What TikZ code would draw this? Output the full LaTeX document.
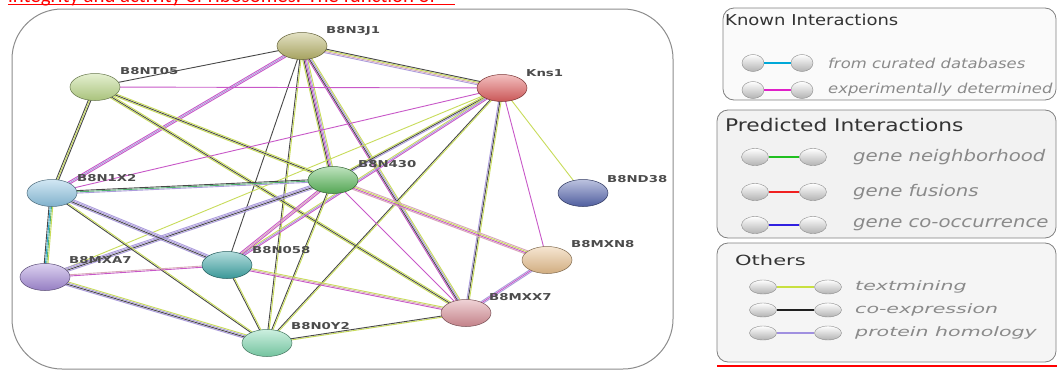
\documentclass[tikz,border=0pt]{standalone}
\usepackage{fontspec}
\usepackage{graphicx}
\setmainfont{DejaVu Sans}
\newfontfamily\redfont{Carlito}
\usetikzlibrary{calc,shapes.geometric}
\pgfdeclarelayer{back}
\pgfdeclarelayer{edges}
\pgfsetlayers{back,edges,main}
% edge colours
\definecolor{etm}{HTML}{C8DC5A}
\definecolor{eco}{HTML}{484848}
\definecolor{ehm}{HTML}{AC9CDC}
\definecolor{eex}{HTML}{C858C8}
\definecolor{edb}{HTML}{30A8D0}
\definecolor{enb}{HTML}{50B070}
\definecolor{epk}{HTML}{D8A8B8}
% node colours
\definecolor{cJ}{HTML}{B8B46A}
\definecolor{cT}{HTML}{BCD88A}
\definecolor{cK}{HTML}{E06060}
\definecolor{cN}{HTML}{5CB85C}
\definecolor{cX}{HTML}{8EC4E2}
\definecolor{cD}{HTML}{5868B0}
\definecolor{cA}{HTML}{A68CD8}
\definecolor{cF}{HTML}{40A8A8}
\definecolor{cM}{HTML}{E8C08E}
\definecolor{cS}{HTML}{D89098}
\definecolor{cY}{HTML}{80D8B0}
% legend colours
\definecolor{ldb}{HTML}{00A8D8}
\definecolor{lex}{HTML}{E020C8}
\definecolor{lnb}{HTML}{20C020}
\definecolor{lfu}{HTML}{F02020}
\definecolor{lco}{HTML}{3020E0}
\definecolor{ltm}{HTML}{C8E040}
\definecolor{lce}{HTML}{202020}
\definecolor{lhm}{HTML}{A090E0}
\definecolor{legtxt}{HTML}{8A8A8A}
\definecolor{redtxt}{HTML}{FF0000}

\newcommand\edg[3]{%
  \foreach \cc [count=\i] in {#3} {\xdef\nn{\i}}%
  \foreach \cc [count=\i] in {#3} {%
    \pgfmathsetmacro\oo{(\i-(\nn+1)/2)*1.25}%
    \draw[color=\cc, line width=0.9pt] ($(#1)!\oo pt!90:(#2)$) -- ($(#2)!\oo pt!-90:(#1)$);
  }}
\newcommand\plabtxt[1]{\scalebox{1.4}[1]{#1}}

\tikzset{
  prot/.style={ellipse, minimum width=50pt, minimum height=27pt, inner sep=0pt,
    draw=#1!55!black, line width=0.5pt, top color=#1!40!white, bottom color=#1!90!black},
  plab/.style={anchor=west, inner sep=0pt, text=black!70,
    font=\bfseries\fontsize{9.5}{10}\selectfont},
  lball/.style={ellipse, minimum width=#1, minimum height=17pt, inner sep=0pt,
    draw=black!45, line width=0.4pt, top color=white, bottom color=black!30},
  lball/.default=22pt,
  legline/.style={line width=1.6pt},
  legbox/.style={draw=black!50, line width=0.8pt, rounded corners=11pt},
  legtitle/.style={anchor=west, inner sep=0pt, text=black!80},
  legitem/.style={anchor=west, inner sep=0pt, text=legtxt}
}

\begin{document}
\begin{tikzpicture}[x=1pt,y=-1pt]
\useasboundingbox (0,0) rectangle (1057,372);
\clip (0,0) rectangle (1057,372);

% red text at top (cut off)
\node[anchor=base west, inner sep=0pt, text=redtxt, font=\redfont\fontsize{20.8}{21}\selectfont]
  (redt) at (8,2.5) {integrity and activity of ribosomes. The function of};
\draw[redtxt, line width=1.5pt] (8,4.5) -- (455,4.5);

% main graph box
\begin{pgfonlayer}{back}
\draw[black!45, line width=1pt, fill=white, rounded corners=50pt] (12,9) rectangle (673,369);
\end{pgfonlayer}

% proteins
\node[prot=cJ] (J1) at (302,46) {};
\node[prot=cT] (T05) at (95,87) {};
\node[prot=cK] (Kns) at (502,88) {};
\node[prot=cN] (N430) at (333,180) {};
\node[prot=cX] (X2) at (52,193) {};
\node[prot=cD] (D38) at (583,193) {};
\node[prot=cA] (XA7) at (45,277) {};
\node[prot=cF] (N058) at (227,265) {};
\node[prot=cM] (XN8) at (547,260) {};
\node[prot=cS] (XX7) at (466,313) {};
\node[prot=cY] (Y2) at (267,343) {};

\node[plab] (lJ1) at (326,31) {\plabtxt{B8N3J1}};
\node[plab] (lT05) at (120,71) {\plabtxt{B8NT05}};
\node[plab] (lKns) at (526,73) {\plabtxt{Kns1}};
\node[plab] (lN430) at (358,164) {\plabtxt{B8N430}};
\node[plab] (lX2) at (77,178) {\plabtxt{B8N1X2}};
\node[plab] (lD38) at (607,179) {\plabtxt{B8ND38}};
\node[plab] (lXA7) at (69,260) {\plabtxt{B8MXA7}};
\node[plab] (lN058) at (252,250) {\plabtxt{B8N058}};
\node[plab] (lXN8) at (571,244) {\plabtxt{B8MXN8}};
\node[plab] (lXX7) at (489,297) {\plabtxt{B8MXX7}};
\node[plab] (lY2) at (291,326) {\plabtxt{B8N0Y2}};

% interactions
\begin{pgfonlayer}{edges}
\edg{J1}{T05}{eco}
\edg{J1}{Kns}{ehm,epk,etm,eco}
\edg{J1}{X2}{eex,ehm,eex}
\edg{J1}{N430}{etm,eco,eex,ehm,etm}
\edg{J1}{N058}{eco}
\edg{J1}{Y2}{eco,etm}
\edg{J1}{XX7}{eex,eco,ehm,etm}
\edg{T05}{Kns}{eex}
\edg{T05}{X2}{eco,etm,eco}
\edg{T05}{N430}{etm,eco,etm}
\edg{T05}{XX7}{etm,eco,etm}
\edg{Kns}{X2}{eex}
\edg{Kns}{N430}{etm,eco,ehm}
\edg{Kns}{N058}{etm,ehm,eex}
\edg{Kns}{XA7}{etm}
\edg{Kns}{Y2}{eco,etm}
\edg{Kns}{XX7}{ehm,eco,etm}
\edg{Kns}{XN8}{eex}
\edg{Kns}{D38}{etm}
\edg{N430}{X2}{eco,enb,ehm}
\edg{N430}{XA7}{ehm,ehm,eco,ehm}
\edg{N430}{N058}{eex,epk,eex}
\edg{N430}{Y2}{eco,etm}
\edg{N430}{XN8}{epk,eex,etm,epk}
\edg{N430}{XX7}{eex}
\edg{X2}{XA7}{eco,edb,enb,etm}
\edg{X2}{N058}{ehm,eco,ehm,ehm}
\edg{X2}{Y2}{eco,etm}
\edg{XA7}{N058}{eex,epk}
\edg{XA7}{Y2}{ehm,eco,ehm,etm}
\edg{N058}{Y2}{eco,etm}
\edg{N058}{XX7}{eex,epk,etm}
\edg{Y2}{XX7}{etm,eco}
\edg{XN8}{XX7}{ehm,eex,ehm}
\end{pgfonlayer}

% legend boxes
\draw[legbox, fill=black!2] (723,8) rectangle (1056,100);
\draw[legbox, fill=black!5] (717,110) rectangle (1056,238);
\draw[legbox, fill=black!4] (717,243) rectangle (1056,362);
\draw[redtxt, line width=1.5pt] (717,366) -- (1057,366);

% Known interactions
\node[legtitle] (k0) at (725,20) {\scalebox{1.2}[1]{\fontsize{15}{15}\selectfont Known Interactions}};
\node[lball] (k1a) at (753,63) {};
\node[lball] (k1b) at (802,63) {};
\draw[legline, ldb] (k1a) -- (k1b);
\node[legitem] (k1t) at (828,63) {\scalebox{1.2}[1]{\fontsize{13.7}{14}\selectfont\itshape from curated databases}};
\node[lball] (k2a) at (753,90) {};
\node[lball] (k2b) at (802,90) {};
\draw[legline, lex] (k2a) -- (k2b);
\node[legitem] (k2t) at (828,90) {\scalebox{1.2}[1]{\fontsize{13.7}{14}\selectfont\itshape experimentally determined}};

% Predicted interactions
\node[legtitle] (p0) at (725,125) {\scalebox{1.25}[1]{\fontsize{17.4}{18}\selectfont Predicted Interactions}};
\node[lball=27pt] (p1a) at (755,157) {};
\node[lball=27pt] (p1b) at (813,157) {};
\draw[legline, lnb] (p1a) -- (p1b);
\node[legitem] (p1t) at (853,157) {\scalebox{1.23}[1]{\fontsize{16}{16}\selectfont\itshape gene neighborhood}};
\node[lball=27pt] (p2a) at (755,192) {};
\node[lball=27pt] (p2b) at (813,192) {};
\draw[legline, lfu] (p2a) -- (p2b);
\node[legitem] (p2t) at (853,192) {\scalebox{1.23}[1]{\fontsize{16}{16}\selectfont\itshape gene fusions}};
\node[lball=27pt] (p3a) at (755,225) {};
\node[lball=27pt] (p3b) at (813,225) {};
\draw[legline, lco] (p3a) -- (p3b);
\node[legitem] (p3t) at (853,225) {\scalebox{1.23}[1]{\fontsize{16}{16}\selectfont\itshape gene co-occurrence}};

% Others
\node[legtitle] (o0) at (735,260) {\scalebox{1.5}[1]{\fontsize{14}{14}\selectfont Others}};
\node[lball=27pt, minimum height=14pt] (o1a) at (763,287) {};
\node[lball=27pt, minimum height=14pt] (o1b) at (828,287) {};
\draw[legline, ltm] (o1a) -- (o1b);
\node[legitem] (o1t) at (855,287) {\scalebox{1.58}[1]{\fontsize{13}{13}\selectfont\itshape textmining}};
\node[lball=27pt, minimum height=14pt] (o2a) at (763,310) {};
\node[lball=27pt, minimum height=14pt] (o2b) at (828,310) {};
\draw[legline, lce] (o2a) -- (o2b);
\node[legitem] (o2t) at (855,310) {\scalebox{1.58}[1]{\fontsize{13}{13}\selectfont\itshape co-expression}};
\node[lball=27pt, minimum height=14pt] (o3a) at (763,333) {};
\node[lball=27pt, minimum height=14pt] (o3b) at (828,333) {};
\draw[legline, lhm] (o3a) -- (o3b);
\node[legitem] (o3t) at (855,333) {\scalebox{1.58}[1]{\fontsize{13}{13}\selectfont\itshape protein homology}};
\end{tikzpicture}
\end{document}
